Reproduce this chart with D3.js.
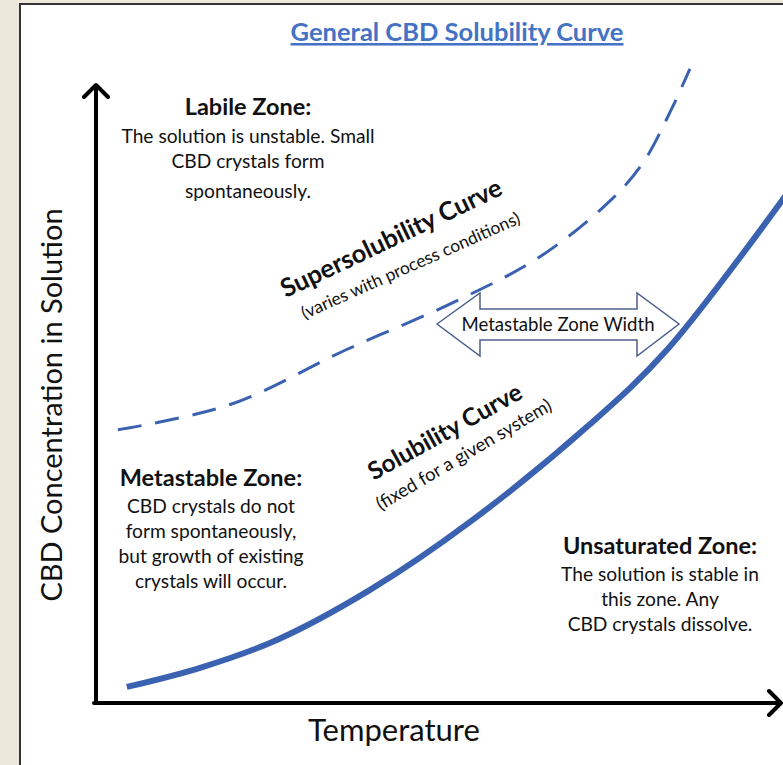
<!DOCTYPE html>
<html>
<head>
<meta charset="utf-8">
<script src="https://cdn.jsdelivr.net/npm/d3@7"></script>
<style>
  body { margin: 0; background: #ebe7da; }
  svg { display: block; }
  text { font-family: Lato, "Open Sans", sans-serif; fill: #111; }
</style>
</head>
<body>
<div id="chart"></div>
<script>
// chart values (temperature / concentration, arbitrary units 0-100)
const solubilityT = [4.5, 15.2, 26.4, 40.0, 54.6, 72.1, 83.4, 100.6];
const solubilityC = [2.6, 5.7, 10.2, 18.3, 29.3, 45.1, 57.2, 82.0];
const superT = [3.2, 19.6, 36.6, 53.1, 64.8, 75.0, 79.9, 83.8, 86.7];
const superC = [44.2, 48.3, 57.2, 65.3, 72.2, 81.2, 87.5, 95.6, 102.6];

const titleText = "General CBD Solubility Curve";
const xLabel = "Temperature";
const yLabel = "CBD Concentration in Solution";
const labileLines = ["The solution is unstable. Small", "CBD crystals form", "spontaneously."];
const metaLines = ["CBD crystals do not", "form spontaneously,", "but growth of existing", "crystals will occur."];
const unsatLines = ["The solution is stable in", "this zone. Any", "CBD crystals dissolve."];

const width = 783, height = 765;
const blue = "#3a62b0";

const svg = d3.select("#chart").append("svg")
    .attr("width", width)
    .attr("height", height);

// beige frame and white panel
svg.append("rect").attr("width", width).attr("height", height).attr("fill", "#ebe7da");
svg.append("rect")
    .attr("x", 20).attr("y", 4)
    .attr("width", width).attr("height", height)
    .attr("fill", "#fff")
    .attr("stroke", "#333").attr("stroke-width", 2);

// scales
const x = d3.scaleLinear().domain([0, 100]).range([96, 781]);
const y = d3.scaleLinear().domain([0, 100]).range([703, 85]);

// title
svg.append("text")
    .attr("x", 457).attr("y", 41)
    .attr("text-anchor", "middle")
    .style("font-size", "25.5px")
    .style("font-weight", "bold")
    .style("fill", "#4472c4")
    .style("text-decoration", "underline")
    .text(titleText);

// metastable zone width arrow (block double arrow)
const ax0 = 437, ax1 = 679, ay = 324;
const arrowPts = [
    [ax0, ay], [480, 293], [480, 309], [637, 309], [637, 293], [ax1, ay],
    [637, 356], [637, 340], [480, 340], [480, 356]
];
svg.append("path")
    .attr("d", d3.line()(arrowPts) + "Z")
    .attr("fill", "#fff")
    .attr("stroke", "#4d5f8c")
    .attr("stroke-width", 1.5);
svg.append("text")
    .attr("x", 558).attr("y", 331)
    .attr("text-anchor", "middle")
    .style("font-size", "18.6px")
    .text("Metastable Zone Width");

// curves
const line = d3.line()
    .x(d => x(d[0]))
    .y(d => y(d[1]))
    .curve(d3.curveCatmullRom.alpha(0.5));

svg.append("path")
    .datum(superT.map((t, i) => [t, superC[i]]))
    .attr("d", line)
    .attr("fill", "none")
    .attr("stroke", blue)
    .attr("stroke-width", 3)
    .attr("stroke-dasharray", "24,14");

svg.append("path")
    .datum(solubilityT.map((t, i) => [t, solubilityC[i]]))
    .attr("d", line)
    .attr("fill", "none")
    .attr("stroke", blue)
    .attr("stroke-width", 6);

// axes with arrow heads
const axisG = svg.append("g")
    .attr("fill", "none")
    .attr("stroke", "#000")
    .attr("stroke-width", 4)
    .attr("stroke-linecap", "round")
    .attr("stroke-linejoin", "round");
axisG.append("path")
    .attr("d", `M${x(0)},${y(0)}V${y(100) + 1}M${x(0) - 12},${y(100) + 12}L${x(0)},${y(100)}L${x(0) + 12},${y(100) + 12}`);
axisG.append("path")
    .attr("d", `M${x(0) - 2},${y(0)}H${x(100)}M${x(100) - 12},${y(0) - 12}L${x(100)},${y(0)}L${x(100) - 12},${y(0) + 12}`);

// axis labels
svg.append("text")
    .attr("x", 394).attr("y", 741)
    .attr("text-anchor", "middle")
    .style("font-size", "31px")
    .text(xLabel);
svg.append("text")
    .attr("transform", "translate(62,405) rotate(-90)")
    .attr("text-anchor", "middle")
    .style("font-size", "29px")
    .text(yLabel);

// zone text blocks
function zone(cx, y0, title, lines, gap) {
    const g = svg.append("g").attr("text-anchor", "middle");
    g.append("text")
        .attr("x", cx).attr("y", y0)
        .style("font-size", "23.5px").style("font-weight", "bold")
        .text(title);
    lines.forEach((t, i) => {
        g.append("text")
            .attr("x", cx).attr("y", y0 + gap[i])
            .style("font-size", "19.2px")
            .text(t);
    });
}
zone(248, 115, "Labile Zone:", labileLines, [28, 53, 83]);
zone(211, 486, "Metastable Zone:", metaLines, [27, 52, 77, 102]);
zone(660, 554, "Unsaturated Zone:", unsatLines, [27, 52, 77]);

// curve labels (rotated)
function curveLabel(cx, cy, angle, text, size, bold) {
    svg.append("text")
        .attr("transform", `translate(${cx},${cy}) rotate(${angle})`)
        .attr("text-anchor", "middle")
        .style("font-size", size + "px")
        .style("font-weight", bold ? "bold" : "normal")
        .text(text);
}
curveLabel(395, 246, -25.5, "Supersolubility Curve", 25.5, true);
curveLabel(413, 271, -24, "(varies with process conditions)", 17.4, false);
curveLabel(449, 439, -29, "Solubility Curve", 24.5, true);
curveLabel(467, 460, -30.5, "(fixed for a given system)", 18.5, false);
</script>
</body>
</html>
